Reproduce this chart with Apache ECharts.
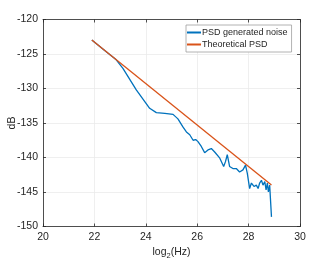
<!DOCTYPE html>
<html><head><meta charset="utf-8">
<script src="https://cdn.jsdelivr.net/npm/echarts@6/dist/echarts.min.js"></script>
<style>html,body{margin:0;padding:0;background:#fff}#c{width:332px;height:260px}</style>
</head><body><div id="c"></div>
<script>
const xTicks = [20, 22, 24, 26, 28, 30];
const yTicks = [-150, -145, -140, -135, -130, -125, -120];
const noiseX = [21.9, 22.4, 22.85, 23.11, 23.63, 24.15, 24.41, 24.74, 25.06, 25.25, 25.45, 25.58, 25.71, 25.84, 25.94, 26.03, 26.16, 26.29, 26.42, 26.55, 26.68, 26.88, 27.03, 27.10, 27.17, 27.26, 27.39, 27.52, 27.65, 27.78, 27.88, 27.95, 28.04, 28.11, 28.21, 28.30, 28.37, 28.43, 28.50, 28.56, 28.63, 28.68, 28.73, 28.77, 28.82, 28.86, 28.89];
const noiseY = [-122.97, -124.5, -125.85, -127.07, -130.2, -132.87, -133.5, -133.6, -133.75, -134.4, -135.6, -136.3, -136.7, -137.5, -137.4, -137.7, -138.4, -139.3, -138.9, -138.7, -139.2, -140.1, -141.3, -140.6, -139.6, -141.3, -141.6, -141.6, -142.1, -141.8, -141.1, -142.3, -144.5, -143.7, -144.2, -144.0, -144.5, -143.7, -143.3, -144.0, -143.5, -144.7, -143.7, -145.0, -144.0, -144.2, -148.6];
const theoryX = [21.9, 28.89];
const theoryY = [-122.97, -144.0];
const seriesNames = ['PSD generated noise', 'Theoretical PSD'];

const zip = (a, b) => a.map((v, i) => [v, b[i]]);
const axisCol = '#262626';
const gridCol = '#ebebeb';
const font = 'Liberation Sans, Arial, sans-serif';

const chart = echarts.init(document.getElementById('c'));
const baseX = {
  type: 'value', min: 20, max: 30, interval: 2,
  axisLine: {show: true, lineStyle: {color: axisCol, width: 0.8}},
  axisTick: {show: true, inside: true, length: 3, lineStyle: {color: axisCol, width: 0.8}},
};
const baseY = {
  type: 'value', min: -150, max: -120, interval: 5,
  axisLine: {show: true, lineStyle: {color: axisCol, width: 0.8}},
  axisTick: {show: true, inside: true, length: 3, lineStyle: {color: axisCol, width: 0.8}},
};
chart.setOption({
  animation: false,
  textStyle: {fontFamily: font},
  grid: {left: 43, right: 32, top: 19.5, bottom: 33.5, containLabel: false, outerBoundsMode: 'none'},
  legend: {
    orient: 'vertical', left: 186, top: 25,
    data: seriesNames,
    icon: 'rect', itemWidth: 14, itemHeight: 2, itemGap: 3,
    padding: [3, 4, 3, 1],
    borderColor: '#a0a0a0', borderWidth: 0.8, backgroundColor: '#fff',
    textStyle: {fontSize: 9, color: '#262626', fontFamily: font, padding: [0, 0, 0, -4]}
  },
  xAxis: [
    Object.assign({}, baseX, {
      position: 'bottom',
      name: '{a|log}{s|2}{a|(Hz)}', nameLocation: 'middle', nameGap: 19, nameMoveOverlap: false,
      nameTextStyle: {rich: {a: {fontSize: 10.5, color: axisCol, fontFamily: font}, s: {fontSize: 7.5, color: axisCol, fontFamily: font, verticalAlign: 'bottom', padding: [6, 0, 0, 0]}}},
      axisLabel: {fontSize: 10.5, color: axisCol, margin: 5, formatter: v => String(v)},
      splitLine: {show: true, lineStyle: {color: gridCol, width: 0.8}}
    }),
    Object.assign({}, baseX, {position: 'top', axisLabel: {show: false}, splitLine: {show: false}})
  ],
  yAxis: [
    Object.assign({}, baseY, {
      position: 'left',
      name: 'dB', nameLocation: 'middle', nameGap: 25, nameRotate: 90, nameMoveOverlap: false,
      nameTextStyle: {fontSize: 10.5, color: axisCol},
      axisLabel: {fontSize: 10.5, color: axisCol, margin: 5, formatter: v => (v < 0 ? '-' + Math.abs(v) : String(v))},
      splitLine: {show: true, lineStyle: {color: gridCol, width: 0.8}}
    }),
    Object.assign({}, baseY, {position: 'right', axisLabel: {show: false}, splitLine: {show: false}})
  ],
  series: [
    {name: seriesNames[0], type: 'line', data: zip(noiseX, noiseY), symbol: 'none',
     lineStyle: {color: '#0072BD', width: 1.3}, itemStyle: {color: '#0072BD'}, z: 2},
    {name: seriesNames[1], type: 'line', data: zip(theoryX, theoryY), symbol: 'none',
     lineStyle: {color: '#D95319', width: 1.3}, itemStyle: {color: '#D95319'}, z: 3}
  ]
});
</script></body></html>
